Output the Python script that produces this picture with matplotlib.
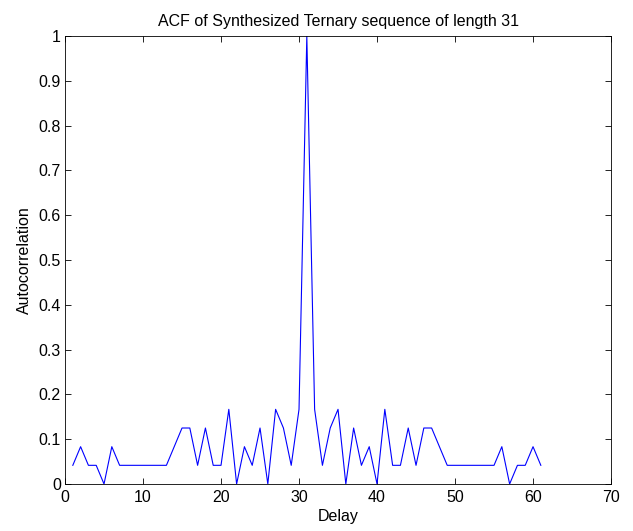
import numpy as np
import matplotlib
matplotlib.use('Agg')
from matplotlib import pyplot as plt

plt.rcParams['font.family'] = ['Liberation Sans', 'DejaVu Sans']
plt.rcParams['font.size'] = 11.5

# delay index and autocorrelation values
delay = list(range(1, 62))
acf = [0.0417, 0.0833, 0.0417, 0.0417, 0.0, 0.0833, 0.0417, 0.0417, 0.0417, 0.0417,
       0.0417, 0.0417, 0.0417, 0.0833, 0.125, 0.125, 0.0417, 0.125, 0.0417, 0.0417,
       0.1667, 0.0, 0.0833, 0.0417, 0.125, 0.0, 0.1667, 0.125, 0.0417, 0.1667,
       1.0,
       0.1667, 0.0417, 0.125, 0.1667, 0.0, 0.125, 0.0417, 0.0833, 0.0, 0.1667,
       0.0417, 0.0417, 0.125, 0.0417, 0.125, 0.125, 0.0833, 0.0417, 0.0417, 0.0417,
       0.0417, 0.0417, 0.0417, 0.0417, 0.0833, 0.0, 0.0417, 0.0417, 0.0833, 0.0417]

xticks = [0, 10, 20, 30, 40, 50, 60, 70]
yticks = [0, 0.1, 0.2, 0.3, 0.4, 0.5, 0.6, 0.7, 0.8, 0.9, 1]
yticklabels = ['0', '0.1', '0.2', '0.3', '0.4', '0.5', '0.6', '0.7', '0.8', '0.9', '1']

fig = plt.figure(figsize=(6.33, 5.31), dpi=100)
ax = fig.add_axes([0.1027, 0.0885, 0.8626, 0.8437])

ax.plot(delay, acf, color='blue', linewidth=0.8)

ax.set_xlim(0, 70)
ax.set_ylim(0, 1)
ax.set_xticks(xticks)
ax.set_yticks(yticks)
ax.set_yticklabels(yticklabels)
ax.tick_params(direction='in', top=True, right=True, length=4, width=0.6)
ax.tick_params(axis='x', pad=4)
ax.tick_params(axis='y', pad=3)
for s in ax.spines.values():
    s.set_linewidth(0.6)

ax.set_title('ACF of Synthesized Ternary sequence of length 31', fontsize=11.5, pad=7)
ax.set_xlabel('Delay', labelpad=3)
ax.set_ylabel('Autocorrelation', labelpad=5)

fig.savefig('out.png', dpi=100)
